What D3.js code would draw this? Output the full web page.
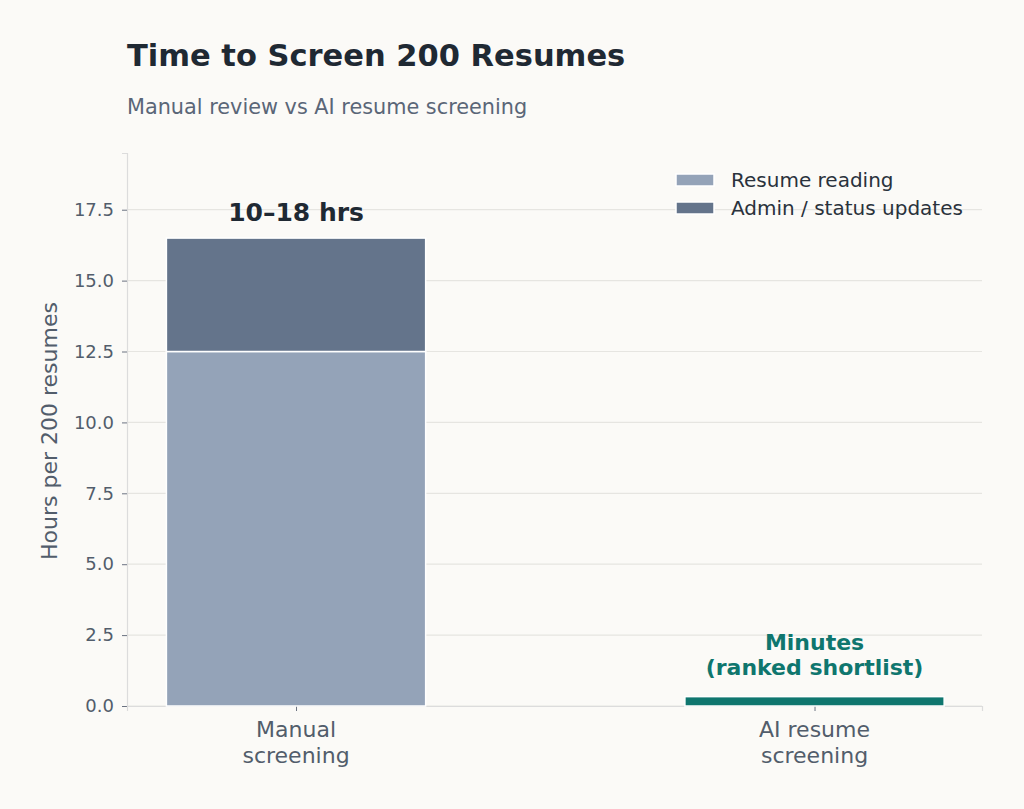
<!DOCTYPE html>
<html>
<head>
<meta charset="utf-8">
<script src="https://cdn.jsdelivr.net/npm/d3@7"></script>
<style>
  body { margin: 0; background: #fbfaf7; }
  svg, svg text { font-family: "DejaVu Sans", sans-serif; }
  svg { display: block; }
</style>
</head>
<body>
<script>
// data
var categories = ["Manual\nscreening", "AI resume\nscreening"];
var readingHours = [12.5, 0];
var adminHours = [4, 0];
var aiHours = [0, 0.33];
var yTicks = [0, 2.5, 5, 7.5, 10, 12.5, 15, 17.5];
var legendLabels = ["Resume reading", "Admin / status updates"];

var W = 1024, H = 809;
var m = {left: 127, right: 982, top: 153, bottom: 706};

var svg = d3.select("body").append("svg")
    .attr("width", W).attr("height", H);

svg.append("rect").attr("width", W).attr("height", H).attr("fill", "#fbfaf7");

var x = d3.scaleLinear().domain([-0.326, 1.323]).range([m.left, m.right]);
var y = d3.scaleLinear().domain([0, 19.5]).range([m.bottom, m.top]);
var bw = x(0.5) - x(0);

// grid
svg.append("g").selectAll("line")
    .data(yTicks)
    .enter().append("line")
    .attr("x1", m.left).attr("x2", m.right)
    .attr("y1", function(d){ return y(d); })
    .attr("y2", function(d){ return y(d); })
    .attr("stroke", "#e6e5e1").attr("stroke-width", 1.2);

// y axis
var yAxis = d3.axisLeft(y).tickValues(yTicks).tickFormat(d3.format(".1f")).tickSize(5).tickPadding(8);
var ga = svg.append("g").attr("transform", "translate(" + m.left + ",0)").call(yAxis)
    .attr("font-family", "DejaVu Sans");
ga.select(".domain").attr("stroke", "#dcdcdc").attr("stroke-width", 1.2);
ga.selectAll(".tick line").attr("stroke", "#6b7280");
ga.selectAll(".tick text").attr("fill", "#525d6b").style("font-size", "18px");

// x axis
var xAxis = d3.axisBottom(x).tickValues([0, 1]).tickSize(5).tickFormat("");
var gx = svg.append("g").attr("transform", "translate(0," + m.bottom + ")").call(xAxis);
gx.select(".domain").attr("stroke", "#dcdcdc").attr("stroke-width", 1.2);
gx.selectAll(".tick line").attr("stroke", "#6b7280");

categories.forEach(function(c, i){
  var t = svg.append("text").attr("x", x(i)).attr("y", 737)
      .attr("text-anchor", "middle").attr("fill", "#525d6b").style("font-size", "22px");
  c.split("\n").forEach(function(line, j){
    t.append("tspan").attr("x", x(i)).attr("dy", j ? 26 : 0).text(line);
  });
});

// bars
var bars = svg.append("g");
bars.selectAll(".reading").data(readingHours).enter().append("rect")
    .attr("x", function(d, i){ return x(i) - bw/2; })
    .attr("y", function(d){ return y(d); })
    .attr("width", bw)
    .attr("height", function(d){ return y(0) - y(d); })
    .attr("fill", "#94a3b8").attr("stroke", "#fff").attr("stroke-width", 1.5);
bars.selectAll(".admin").data(adminHours).enter().append("rect")
    .attr("x", function(d, i){ return x(i) - bw/2; })
    .attr("y", function(d, i){ return y(readingHours[i] + d); })
    .attr("width", bw)
    .attr("height", function(d, i){ return y(readingHours[i]) - y(readingHours[i] + d); })
    .attr("fill", "#64748b").attr("stroke", "#fff").attr("stroke-width", 1.5);
bars.selectAll(".ai").data(aiHours).enter().append("rect")
    .attr("x", function(d, i){ return x(i) - bw/2; })
    .attr("y", function(d){ return y(d); })
    .attr("width", bw)
    .attr("height", function(d){ return y(0) - y(d); })
    .attr("fill", "#0f766e").attr("stroke", "#fff").attr("stroke-width", 1.5);

// annotations
svg.append("text").attr("x", x(0)).attr("y", y(readingHours[0] + adminHours[0]) - 17)
    .attr("text-anchor", "middle").attr("fill", "#1f2933")
    .style("font-size", "25px").style("font-weight", "bold").text("10–18 hrs");

var ann = svg.append("text").attr("x", x(1)).attr("y", 650)
    .attr("text-anchor", "middle").attr("fill", "#0f766e")
    .style("font-size", "22px").style("font-weight", "bold");
ann.append("tspan").attr("x", x(1)).text("Minutes");
ann.append("tspan").attr("x", x(1)).attr("dy", 25).text("(ranked shortlist)");

// y label
svg.append("text").attr("transform", "translate(57," + 431 + ") rotate(-90)")
    .attr("text-anchor", "middle").attr("fill", "#525d6b").style("font-size", "22px")
    .text("Hours per 200 resumes");

// legend
var legColors = ["#94a3b8", "#64748b"];
legendLabels.forEach(function(l, i){
  svg.append("rect").attr("x", 676).attr("y", 174 + i*28).attr("width", 38).attr("height", 12)
    .attr("fill", legColors[i]).attr("stroke", "#fff").attr("stroke-width", 1.5);
  svg.append("text").attr("x", 731).attr("y", 187 + i*28).attr("fill", "#2a323c")
    .style("font-size", "20px").text(l);
});

// title
svg.append("text").attr("x", 127).attr("y", 66).attr("fill", "#1f2933")
    .style("font-size", "30.5px").style("font-weight", "bold").text("Time to Screen 200 Resumes");
svg.append("text").attr("x", 127).attr("y", 114).attr("fill", "#5a6677")
    .style("font-size", "20.8px").text("Manual review vs AI resume screening");
</script>
</body>
</html>
